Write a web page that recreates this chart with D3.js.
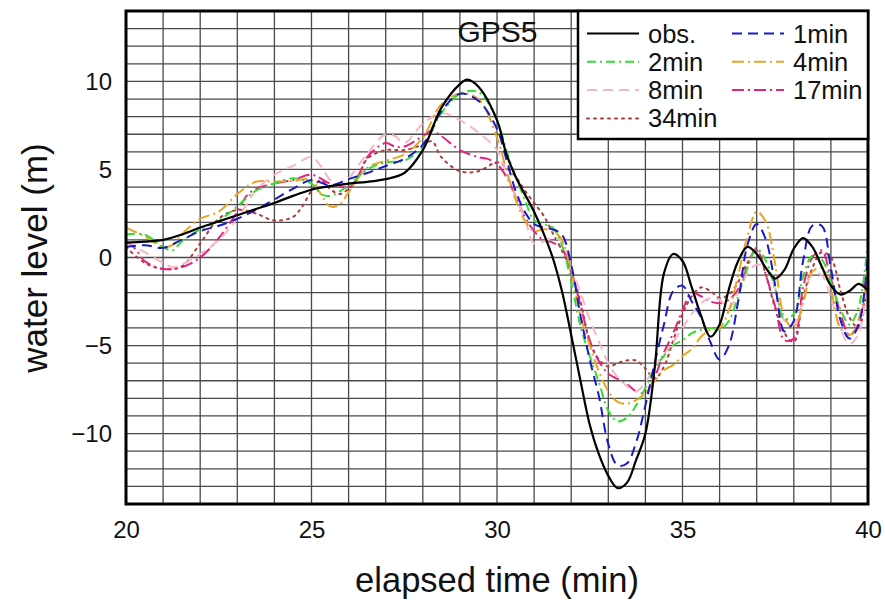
<!DOCTYPE html>
<html><head><meta charset="utf-8">
<script src="https://cdn.jsdelivr.net/npm/d3@7/dist/d3.min.js"></script>
<style>body{margin:0;background:#fff}svg{display:block}text{font-family:"Liberation Sans",Arial,sans-serif}</style>
</head><body><svg id="c" width="885" height="604"></svg>
<script>
const xTicks = [20, 25, 30, 35, 40];
const yTicks = [10, 5, 0, -5, -10];
const seriesNames = ["obs.", "1min", "2min", "4min", "8min", "17min", "34min"];

const obs = [[20,0.85],[20.5,0.9],[21,1.0],[21.5,1.3],[22,1.7],[22.5,2.05],[23,2.4],[23.5,2.75],[24,3.1],[24.5,3.5],[25,3.85],[25.5,4.05],[26,4.2],[26.5,4.3],[27,4.45],[27.5,4.8],[28,6.1],[28.5,8.5],[29,9.85],[29.2,10.1],[29.5,9.7],[30,7.8],[30.25,5.9],[30.5,4.6],[31,2.6],[31.25,1.4],[31.5,0.0],[31.75,-1.9],[32,-4.4],[32.25,-7.0],[32.5,-9.5],[32.75,-11.2],[33,-12.4],[33.25,-13.1],[33.5,-12.8],[33.75,-11.5],[34,-10.0],[34.25,-6.3],[34.5,-0.9],[34.75,0.2],[35,-0.2],[35.25,-1.7],[35.5,-3.3],[35.75,-4.5],[36,-3.8],[36.25,-1.8],[36.5,-0.2],[36.75,0.6],[37,0.2],[37.25,-0.6],[37.5,-1.2],[37.75,-0.7],[38,0.5],[38.25,1.1],[38.5,0.6],[38.75,-0.5],[39,-1.6],[39.25,-2.1],[39.5,-1.9],[39.75,-1.5],[40,-1.9]];

const min1 = [[20,0.6],[20.5,0.7],[21,0.55],[21.5,1.0],[22,1.5],[22.5,1.8],[23,2.2],[23.5,2.7],[24,3.3],[24.5,3.9],[25,4.4],[25.5,4.1],[26,4.45],[26.5,4.8],[27,5.2],[27.5,5.6],[28,6.4],[28.5,8.3],[29,9.3],[29.5,8.9],[30,7.3],[30.25,5.6],[30.5,3.8],[30.75,2.6],[31,1.9],[31.25,1.7],[31.5,1.6],[31.75,1.3],[32,-0.4],[32.25,-3.3],[32.5,-5.8],[32.75,-7.9],[33,-10.6],[33.25,-11.8],[33.5,-11.7],[33.75,-10.5],[34,-8.4],[34.25,-6.0],[34.5,-3.8],[34.75,-1.9],[35,-1.6],[35.25,-2.5],[35.5,-3.4],[35.75,-4.8],[36,-5.8],[36.25,-5.0],[36.5,-2.5],[36.75,0.7],[37,1.9],[37.25,1.0],[37.5,-1.6],[37.75,-4.2],[38,-3.6],[38.25,-0.2],[38.5,1.8],[38.75,1.8],[39,-0.6],[39.25,-3.5],[39.5,-4.6],[39.75,-3.8],[40,0.3]];

const min2 = [[20,1.3],[20.5,1.3],[21,0.6],[21.25,0.4],[21.5,0.9],[22,1.6],[22.5,2.1],[23,2.9],[23.5,3.8],[24,4.2],[24.5,4.5],[25,4.2],[25.25,3.6],[25.5,3.5],[26,4.1],[26.5,5.0],[27,5.4],[27.5,5.5],[28,6.3],[28.5,8.2],[29,9.3],[29.5,9.4],[30,7.8],[30.25,6.1],[30.5,4.6],[30.75,3.3],[31,2.1],[31.25,1.9],[31.5,1.7],[31.75,0.7],[32,-1.4],[32.25,-3.9],[32.5,-5.6],[32.75,-7.1],[33,-8.7],[33.25,-9.3],[33.5,-9.1],[33.75,-8.4],[34,-7.4],[34.25,-6.3],[34.5,-5.6],[34.75,-5.0],[35,-4.7],[35.25,-4.3],[35.5,-4.1],[35.75,-4.0],[36,-4.1],[36.25,-3.6],[36.5,-2.2],[36.75,-0.6],[37,0.5],[37.25,-0.2],[37.5,-1.8],[37.75,-3.5],[38,-3.2],[38.25,-1.1],[38.5,0.1],[38.75,-0.1],[39,-1.4],[39.25,-2.9],[39.5,-3.8],[39.75,-2.8],[40,1.0]];

const min4 = [[20,1.7],[20.5,1.2],[21,0.6],[21.25,0.7],[21.5,1.3],[22,2.2],[22.5,2.6],[23,3.6],[23.5,4.3],[24,4.3],[24.5,4.35],[25,4.4],[25.25,3.6],[25.5,2.9],[25.75,3.0],[26,3.7],[26.5,5.1],[27,5.5],[27.5,5.85],[28,6.8],[28.5,8.7],[29,9.3],[29.5,9.0],[30,6.8],[30.25,5.0],[30.5,3.3],[30.75,2.1],[31,1.5],[31.25,1.6],[31.5,1.5],[31.75,1.0],[32,-0.8],[32.25,-3.3],[32.5,-5.0],[32.75,-6.5],[33,-7.6],[33.25,-8.2],[33.5,-8.3],[33.75,-8.1],[34,-7.7],[34.25,-7.0],[34.5,-6.4],[34.75,-6.1],[35,-5.6],[35.25,-5.2],[35.5,-4.5],[35.75,-4.1],[36,-4.0],[36.25,-3.0],[36.5,-1.0],[36.75,1.2],[37,2.6],[37.25,2.0],[37.5,-0.4],[37.75,-3.4],[38,-4.0],[38.25,-2.6],[38.5,-0.8],[38.75,-0.6],[39,-1.8],[39.25,-4.0],[39.5,-4.4],[39.75,-3.5],[40,-0.8]];

const min8 = [[20,0.9],[20.5,0.3],[21,-0.3],[21.25,-0.55],[21.5,-0.4],[22,0.2],[22.5,1.0],[23,2.2],[23.5,3.8],[24,4.7],[24.5,5.2],[25,5.7],[25.25,5.2],[25.5,4.4],[25.75,4.1],[26,4.5],[26.5,5.9],[27,7.0],[27.25,6.9],[27.5,6.5],[28,7.6],[28.5,8.2],[29,7.8],[29.5,7.1],[30,6.1],[30.25,4.8],[30.5,3.5],[30.75,2.2],[31,0.8],[31.25,0.9],[31.5,1.1],[31.75,0.9],[32,-0.6],[32.25,-2.0],[32.5,-3.5],[32.75,-4.8],[33,-6.0],[33.25,-6.8],[33.5,-7.3],[33.75,-7.6],[34,-7.1],[34.25,-6.2],[34.5,-5.5],[34.75,-4.8],[35,-4.0],[35.25,-3.2],[35.5,-2.6],[35.75,-2.3],[36,-2.4],[36.25,-2.9],[36.5,-2.0],[36.75,-0.9],[37,-0.4],[37.25,-0.6],[37.5,-1.8],[37.75,-3.6],[38,-3.8],[38.25,-2.5],[38.5,-0.9],[38.75,-1.0],[39,-2.3],[39.25,-4.0],[39.5,-4.9],[39.75,-4.3],[40,-0.6]];

const min17 = [[20,0.9],[20.25,0.5],[20.5,-0.2],[21,-0.65],[21.5,-0.55],[22,0.0],[22.5,1.1],[23,2.6],[23.25,3.5],[23.5,3.9],[24,4.2],[24.5,4.4],[25,4.7],[25.5,4.2],[26,4.0],[26.25,4.6],[26.5,5.7],[27,6.5],[27.25,6.3],[27.5,6.3],[28,6.9],[28.25,7.2],[28.5,6.9],[29,6.1],[29.5,5.7],[29.75,5.6],[30,5.3],[30.25,4.6],[30.5,3.5],[30.75,2.3],[31,1.5],[31.25,1.0],[31.5,0.85],[31.75,0.5],[32,-0.8],[32.25,-2.7],[32.5,-4.7],[32.75,-5.9],[33,-6.6],[33.25,-6.9],[33.5,-7.2],[33.75,-7.6],[34,-7.7],[34.25,-6.8],[34.5,-5.4],[34.75,-4.3],[35,-3.0],[35.25,-2.0],[35.5,-2.2],[35.75,-2.5],[36,-2.6],[36.25,-2.4],[36.5,-1.8],[36.75,-0.5],[37,0.55],[37.25,-1.0],[37.5,-2.8],[37.75,-4.7],[38,-4.6],[38.25,-1.7],[38.5,0.0],[38.75,0.4],[39,-1.2],[39.25,-3.1],[39.5,-4.4],[39.75,-3.8],[40,-1.1]];

const min34 = [[20,0.6],[20.5,-0.3],[21,-0.65],[21.5,-0.5],[22,0.8],[22.5,2.2],[23,2.7],[23.5,2.5],[24,2.1],[24.5,2.3],[24.75,2.9],[25,3.8],[25.25,4.4],[25.5,3.9],[25.75,3.6],[26,3.9],[26.25,4.5],[26.5,5.6],[27,6.1],[27.5,6.1],[28,6.4],[28.25,6.6],[28.5,5.7],[29,4.9],[29.5,4.9],[30,5.4],[30.25,5.1],[30.5,4.6],[30.75,3.8],[31,3.1],[31.25,2.4],[31.5,1.4],[31.75,0.4],[32,-0.8],[32.25,-2.5],[32.5,-4.8],[32.75,-5.8],[33,-6.2],[33.25,-6.0],[33.5,-5.85],[33.75,-5.85],[34,-6.3],[34.25,-6.9],[34.5,-6.2],[34.75,-4.7],[35,-3.2],[35.25,-2.2],[35.5,-1.7],[35.75,-1.9],[36,-2.3],[36.25,-2.1],[36.5,-1.4],[36.75,-0.3],[37,0.4],[37.25,-1.0],[37.5,-2.9],[37.75,-4.3],[38,-4.8],[38.25,-2.3],[38.5,-0.6],[38.75,0.3],[39,0.0],[39.25,-1.8],[39.5,-3.4],[39.75,-4.0],[40,-0.6]];

const seriesData = [obs, min1, min2, min4, min8, min17, min34];
const styles = [
  {color:"#000000", dash:null, w:2.2},
  {color:"#1a1ac8", dash:"10,6", w:2},
  {color:"#33dd33", dash:"9,4,2,4", w:2},
  {color:"#e8a524", dash:"12,4,2,4", w:2},
  {color:"#f6b8c8", dash:"10,6", w:2},
  {color:"#e0257f", dash:"12,4,2,4", w:2},
  {color:"#b13a3a", dash:"2,5", w:2}
];

const svg = d3.select("#c");
const L = 126, R = 868, T = 11, B = 504;
const x = d3.scaleLinear().domain([20, 40]).range([L, R]);
const y = d3.scaleLinear().domain([-14, 14]).range([B, T]);

// grid
const g = svg.append("g");
g.selectAll(".vg").data(d3.range(21, 40)).join("line")
  .attr("x1", d => x(d)).attr("x2", d => x(d)).attr("y1", T).attr("y2", B)
  .attr("stroke", "#4a4a4a").attr("stroke-width", 1.3);
g.selectAll(".hg").data(d3.range(-13, 14)).join("line")
  .attr("y1", d => y(d)).attr("y2", d => y(d)).attr("x1", L).attr("x2", R)
  .attr("stroke", "#4a4a4a").attr("stroke-width", 1.3);

svg.append("clipPath").attr("id", "clip").append("rect")
  .attr("x", L).attr("y", T).attr("width", R - L).attr("height", B - T);

const line = d3.line().x(d => x(d[0])).y(d => y(d[1])).curve(d3.curveCatmullRom.alpha(0.5));
const lg = svg.append("g").attr("clip-path", "url(#clip)");
const order = [6, 5, 4, 3, 2, 1, 0];
order.forEach(i => {
  lg.append("path").attr("d", line(seriesData[i])).attr("fill", "none")
    .attr("stroke", styles[i].color).attr("stroke-width", styles[i].w)
    .attr("stroke-dasharray", styles[i].dash)
    .attr("stroke-linecap", i === 6 ? "round" : "butt");
});

// axes
const xAxis = d3.axisBottom(x).tickValues(xTicks).tickSize(0).tickPadding(17);
const yAxis = d3.axisLeft(y).tickValues(yTicks).tickSize(0).tickPadding(14)
  .tickFormat(d => d < 0 ? "\u2212" + Math.abs(d) : d);
const xa = svg.append("g").attr("transform", `translate(0,${B})`).call(xAxis);
const ya = svg.append("g").attr("transform", `translate(${L},0)`).call(yAxis);
[xa, ya].forEach(a => { a.select(".domain").remove(); a.selectAll("text").attr("font-size", 24).attr("fill", "#111").attr("font-family", "Liberation Sans, Arial, sans-serif"); });

// frame
svg.append("rect").attr("x", L).attr("y", T).attr("width", R - L).attr("height", B - T)
  .attr("fill", "none").attr("stroke", "#000").attr("stroke-width", 3);

// GPS5 label
svg.append("text").attr("x", 497.5).attr("y", 42).attr("text-anchor", "middle")
  .attr("font-size", 30).attr("fill", "#111").text("GPS5");

// legend
const lgd = svg.append("g");
lgd.append("rect").attr("x", 578).attr("y", T).attr("width", R - 578).attr("height", 128)
  .attr("fill", "#fff").attr("stroke", "#000").attr("stroke-width", 2.5);
const legPos = [[0,0],[1,0],[0,1],[1,1],[0,2],[1,2],[0,3]];
seriesNames.forEach((name, i) => {
  const [c, r] = legPos[i];
  const lx = c === 0 ? 587 : 732;
  const ly = 33.5 + r * 28.3;
  lgd.append("line").attr("x1", lx).attr("x2", lx + 52).attr("y1", ly).attr("y2", ly)
    .attr("stroke", styles[i].color).attr("stroke-width", styles[i].w)
    .attr("stroke-dasharray", styles[i].dash).attr("stroke-linecap", i === 6 ? "round" : "butt");
  lgd.append("text").attr("x", lx + 61).attr("y", ly + 9).attr("font-size", 25.5)
    .attr("fill", "#111").text(name);
});

// axis titles
svg.append("text").attr("x", 497).attr("y", 592).attr("text-anchor", "middle")
  .attr("font-size", 34.5).attr("fill", "#111").text("elapsed time (min)");
svg.append("text").attr("transform", "translate(47,258) rotate(-90)").attr("text-anchor", "middle")
  .attr("font-size", 35).attr("fill", "#111").text("water level (m)");
</script></body></html>
